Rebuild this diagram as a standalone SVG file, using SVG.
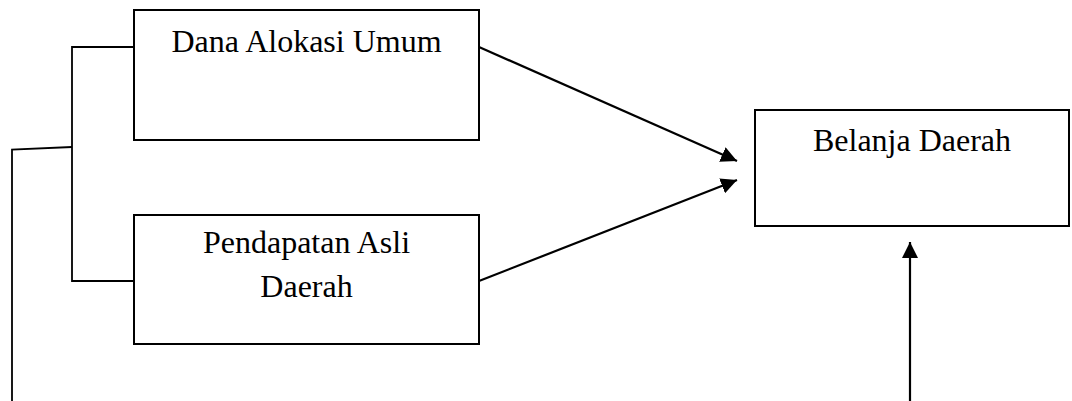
<svg xmlns="http://www.w3.org/2000/svg" width="1072" height="401" viewBox="0 0 1072 401">
<style>
.box{fill:#fff;stroke:#000;stroke-width:2}
.lbl{font-family:"Liberation Serif","Times New Roman",serif;font-size:32px;fill:#000;text-anchor:middle}
.ln{fill:none;stroke:#000;stroke-width:1.8}
.ar{fill:none;stroke:#000;stroke-width:2.2;marker-end:url(#ah)}
</style>
<defs>
<marker id="ah" viewBox="0 0 16 16" refX="16" refY="8" markerWidth="16" markerHeight="16" markerUnits="userSpaceOnUse" orient="auto">
<path d="M0,0 L16,8 L0,16 z" fill="#000"/>
</marker>
</defs>
<rect width="1072" height="401" fill="#fff"/>
<g id="connectors">
<polyline class="ln" points="134,47 72,47 72,281 134,281"/>
<polyline class="ln" points="72,147 12,149.5 12,401"/>
<line class="ar" x1="479" y1="47" x2="737" y2="161"/>
<line class="ar" x1="479" y1="281" x2="737" y2="180"/>
<line class="ar" x1="910" y1="401" x2="910" y2="242"/>
</g>
<g id="dau">
<rect class="box" x="134" y="10" width="345" height="130"/>
<text class="lbl" x="306.5" y="52">Dana Alokasi Umum</text>
</g>
<g id="pad">
<rect class="box" x="134" y="215" width="345" height="129"/>
<text class="lbl" x="306.5" y="253">Pendapatan Asli</text>
<text class="lbl" x="306.5" y="296.5">Daerah</text>
</g>
<g id="bd">
<rect class="box" x="755" y="110" width="314" height="116"/>
<text class="lbl" x="912" y="151">Belanja Daerah</text>
</g>
</svg>
